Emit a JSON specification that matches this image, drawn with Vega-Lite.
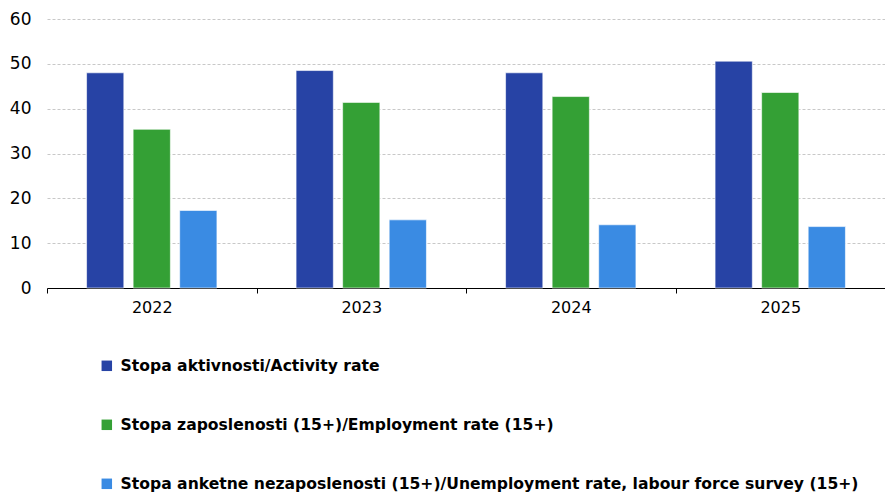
{
  "$schema": "https://vega.github.io/schema/vega-lite/v6.json",
  "width": 838,
  "height": 269,
  "padding": {"left": 9, "top": 10, "right": 0, "bottom": 0},
  "background": "white",
  "data": {"values": [
    {"year": "2022", "series": "Stopa aktivnosti/Activity rate", "value": 48.0},
    {"year": "2022", "series": "Stopa zaposlenosti (15+)/Employment rate (15+)", "value": 35.4},
    {"year": "2022", "series": "Stopa anketne nezaposlenosti (15+)/Unemployment rate, labour force survey (15+)", "value": 17.3},
    {"year": "2023", "series": "Stopa aktivnosti/Activity rate", "value": 48.5},
    {"year": "2023", "series": "Stopa zaposlenosti (15+)/Employment rate (15+)", "value": 41.4},
    {"year": "2023", "series": "Stopa anketne nezaposlenosti (15+)/Unemployment rate, labour force survey (15+)", "value": 15.2},
    {"year": "2024", "series": "Stopa aktivnosti/Activity rate", "value": 48.0},
    {"year": "2024", "series": "Stopa zaposlenosti (15+)/Employment rate (15+)", "value": 42.7},
    {"year": "2024", "series": "Stopa anketne nezaposlenosti (15+)/Unemployment rate, labour force survey (15+)", "value": 14.1},
    {"year": "2025", "series": "Stopa aktivnosti/Activity rate", "value": 50.6},
    {"year": "2025", "series": "Stopa zaposlenosti (15+)/Employment rate (15+)", "value": 43.6},
    {"year": "2025", "series": "Stopa anketne nezaposlenosti (15+)/Unemployment rate, labour force survey (15+)", "value": 13.7}
  ]},
  "mark": {"type": "bar", "stroke": "white", "strokeOpacity": 0.6, "strokeWidth": 1},
  "encoding": {
    "x": {
      "field": "year", "type": "nominal",
      "scale": {"paddingInner": 0, "paddingOuter": 0},
      "axis": {"title": null, "labelAngle": 0, "tickBand": "extent", "domainColor": "#000000", "tickColor": "#000000", "tickSize": 5, "labelFontSize": 16, "labelPadding": 6, "labelColor": "#000000", "labelFont": "DejaVu Sans", "grid": false}
    },
    "xOffset": {
      "field": "series", "type": "nominal",
      "sort": ["Stopa aktivnosti/Activity rate", "Stopa zaposlenosti (15+)/Employment rate (15+)", "Stopa anketne nezaposlenosti (15+)/Unemployment rate, labour force survey (15+)"],
      "scale": {"paddingInner": 0.2, "paddingOuter": 0.85}
    },
    "y": {
      "field": "value", "type": "quantitative",
      "scale": {"domain": [0, 60], "nice": false},
      "axis": {"title": null, "values": [0, 10, 20, 30, 40, 50, 60], "domain": false, "ticks": false, "labelFontSize": 17, "labelPadding": 16, "labelColor": "#000000", "labelFont": "DejaVu Sans", "gridColor": "#c8c8c8", "gridDash": [3, 2], "gridWidth": 1}
    },
    "color": {
      "field": "series", "type": "nominal",
      "sort": ["Stopa aktivnosti/Activity rate", "Stopa zaposlenosti (15+)/Employment rate (15+)", "Stopa anketne nezaposlenosti (15+)/Unemployment rate, labour force survey (15+)"],
      "scale": {"range": ["#2743A5", "#34A035", "#3A8BE3"]},
      "legend": {
        "title": null, "orient": "none", "legendX": 52, "legendY": 339, "direction": "vertical",
        "symbolType": "square", "symbolSize": 110, "symbolStrokeWidth": 0, "symbolOpacity": 1,
        "labelFontSize": 15.6, "labelFont": "DejaVu Sans", "labelFontWeight": "bold", "labelColor": "#000000", "labelLimit": 900,
        "rowPadding": 42, "labelOffset": 6
      }
    }
  },
  "config": {"view": {"stroke": null}}
}
